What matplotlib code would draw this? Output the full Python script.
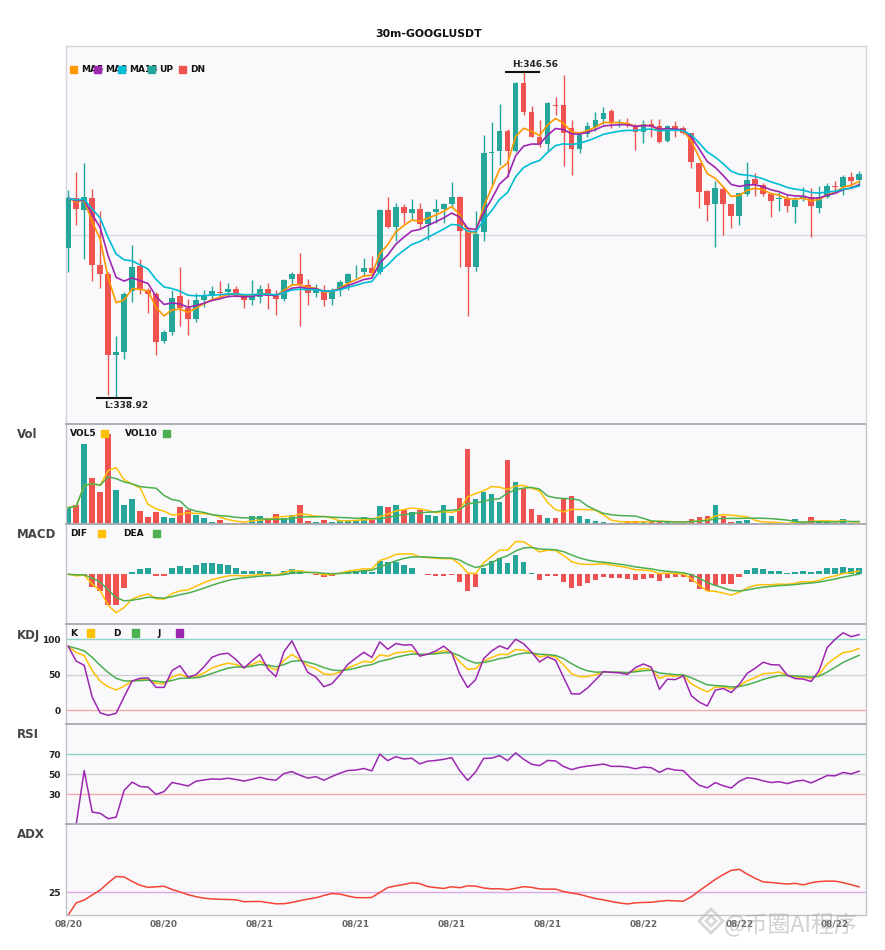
import numpy as np
import pandas as pd
import matplotlib
matplotlib.use("Agg")
import matplotlib.pyplot as plt
from matplotlib.patches import Rectangle, RegularPolygon
from matplotlib.transforms import IdentityTransform

# 1. Dados das velas (30m GOOGLUSDT)
opens = [342.44, 343.60, 343.32, 343.61, 342.04, 341.83, 339.94, 340.00, 341.44, 342.02,
         341.45, 341.36, 340.26, 340.48, 341.31, 341.04, 340.78, 341.22, 341.32, 341.41,
         341.40, 341.48, 341.36, 341.21, 341.29, 341.48, 341.32, 341.24, 341.71, 341.83,
         341.57, 341.38, 341.44, 341.25, 341.45, 341.62, 341.84, 341.87, 341.96, 341.88,
         343.32, 342.93, 343.40, 343.26, 343.35, 343.00, 343.28, 343.35, 343.47, 343.63,
         342.86, 341.98, 342.82, 344.67, 344.71, 345.17, 344.71, 346.29, 345.62, 345.04,
         344.86, 345.79, 345.78, 345.24, 344.75, 345.10, 345.27, 345.45, 345.64, 345.36,
         345.37, 345.30, 345.16, 345.35, 345.29, 344.94, 345.30, 345.24, 345.12, 344.42,
         343.77, 343.46, 343.82, 343.47, 343.19, 343.70, 344.05, 343.90, 343.70, 343.59,
         343.59, 343.40, 343.58, 343.64, 343.38, 343.62, 343.89, 343.86, 344.09, 344.03]
highs = [343.79, 344.21, 344.42, 343.81, 343.30, 341.87, 340.38, 341.41, 342.51, 342.18,
         341.50, 341.41, 340.52, 341.45, 341.98, 341.24, 341.38, 341.45, 341.55, 341.66,
         341.61, 341.55, 341.36, 341.69, 341.57, 341.61, 341.45, 341.71, 341.88, 342.33,
         341.71, 341.59, 341.57, 341.49, 341.69, 341.84, 342.04, 342.20, 342.25, 343.35,
         343.64, 343.48, 343.47, 343.58, 343.48, 343.30, 343.58, 343.49, 343.99, 343.65,
         342.90, 343.31, 345.08, 345.39, 345.80, 345.22, 346.32, 346.56, 345.77, 345.43,
         345.85, 345.96, 346.48, 345.43, 345.16, 345.39, 345.62, 345.74, 345.69, 345.45,
         345.49, 345.35, 345.43, 345.45, 345.45, 345.31, 345.41, 345.29, 345.12, 344.42,
         343.79, 344.00, 343.86, 343.47, 343.72, 344.46, 344.20, 343.95, 343.70, 343.75,
         343.68, 343.64, 343.86, 343.83, 343.89, 343.96, 344.00, 344.14, 344.21, 344.24]
lows = [341.88, 342.97, 342.18, 341.67, 341.51, 339.00, 338.92, 339.84, 341.18, 341.36,
        340.92, 339.92, 340.21, 340.40, 340.62, 340.40, 340.71, 341.06, 341.22, 341.27,
        341.30, 341.29, 341.03, 341.10, 341.15, 341.00, 340.87, 341.20, 341.57, 340.60,
        341.10, 341.30, 341.08, 341.10, 341.31, 341.45, 341.73, 341.77, 341.77, 341.83,
        342.90, 342.61, 343.01, 343.11, 342.90, 342.62, 343.01, 343.01, 343.37, 341.98,
        340.85, 341.90, 342.61, 343.91, 344.38, 344.10, 344.68, 345.55, 345.03, 344.79,
        344.68, 345.55, 344.35, 344.14, 344.65, 345.04, 345.18, 345.35, 345.24, 345.27,
        345.27, 344.73, 344.89, 345.03, 344.90, 344.92, 345.03, 345.10, 344.31, 343.37,
        343.07, 342.47, 342.74, 342.90, 342.97, 343.66, 343.66, 343.66, 343.15, 343.31,
        343.29, 343.03, 343.54, 342.70, 343.26, 343.60, 343.73, 343.68, 343.81, 343.91]
closes = [343.60, 343.35, 343.62, 342.04, 341.83, 339.93, 339.99, 341.36, 341.99, 341.45,
          341.36, 340.24, 340.47, 341.27, 341.04, 340.78, 341.22, 341.34, 341.43, 341.39,
          341.48, 341.36, 341.22, 341.34, 341.48, 341.32, 341.25, 341.69, 341.83, 341.59,
          341.38, 341.47, 341.22, 341.44, 341.65, 341.83, 341.86, 341.96, 341.84, 343.32,
          342.93, 343.40, 343.26, 343.35, 343.00, 343.28, 343.35, 343.47, 343.64, 342.84,
          341.98, 342.76, 344.65, 344.69, 345.17, 344.71, 346.29, 345.62, 345.04, 344.86,
          345.82, 345.77, 345.13, 344.75, 345.08, 345.29, 345.43, 345.59, 345.37, 345.37,
          345.31, 345.16, 345.35, 345.29, 344.92, 345.30, 345.17, 345.13, 344.46, 343.75,
          343.44, 343.84, 343.47, 343.19, 343.72, 344.03, 343.93, 343.71, 343.54, 343.60,
          343.42, 343.57, 343.64, 343.42, 343.64, 343.89, 343.87, 344.09, 344.00, 344.17]
volumes = [16.7, 19.3, 80.3, 46.7, 32.7, 90.3, 34.3, 19.3, 25.3, 13.3,
           7.3, 12.3, 7.3, 6.3, 17.3, 14.3, 9.3, 6.3, 2.3, 4.3,
           1.3, 1.3, 1.7, 8.3, 8.3, 6.3, 10.3, 6.3, 9.3, 19.3,
           3.3, 2.3, 4.3, 2.3, 4.3, 4.3, 4.3, 7.3, 4.3, 18.3,
           17.3, 19.3, 14.3, 12.3, 14.3, 9.3, 8.3, 19.3, 8.3, 26.3,
           75.3, 25.3, 32.3, 30.3, 22.3, 64.3, 42.3, 36.3, 15.3, 9.3,
           6.3, 6.3, 25.3, 28.3, 8.3, 5.3, 3.3, 2.3, 1.3, 1.3,
           3.3, 3.3, 3.3, 2.3, 3.3, 2.3, 1.3, 1.3, 5.3, 7.3,
           8.3, 19.3, 8.3, 2.3, 3.3, 4.3, 1.3, 0.7, 1.3, 0.7,
           0.7, 5.3, 1.3, 7.3, 2.3, 2.3, 1.3, 5.3, 1.3, 0.7]
inicio = "2025-08-20 14:00"

UP = "#26a69a"
DN = "#ef5350"

df = pd.DataFrame({"open": opens, "high": highs, "low": lows,
                   "close": closes, "vol": volumes})
df.index = pd.date_range(inicio, periods=len(df), freq="30min")
n = len(df)
x = np.arange(n)
close = df["close"]

# 2. Indicadores
ema5 = close.ewm(span=5, adjust=False).mean()
ema8 = close.ewm(span=8, adjust=False).mean()
ema13 = close.ewm(span=13, adjust=False).mean()

vol5 = df["vol"].rolling(5, min_periods=1).mean()
vol10 = df["vol"].rolling(10, min_periods=1).mean()

dif = close.ewm(span=6, adjust=False).mean() - close.ewm(span=13, adjust=False).mean()
dea = dif.ewm(span=5, adjust=False).mean()
hist = 2 * (dif - dea)

low_n = df["low"].rolling(9, min_periods=1).min()
high_n = df["high"].rolling(9, min_periods=1).max()
rsv = (close - low_n) / (high_n - low_n) * 100
k = rsv.ewm(com=2, adjust=False).mean()
d = k.ewm(com=2, adjust=False).mean()
j = 3 * k - 2 * d

delta = close.diff().fillna(0)
ganho = delta.clip(lower=0).ewm(alpha=1 / 14, adjust=False).mean()
perda = (-delta.clip(upper=0)).ewm(alpha=1 / 14, adjust=False).mean()
rsi = 100 * ganho / (ganho + perda)

prev = close.shift()
tr = pd.concat([df["high"] - df["low"], (df["high"] - prev).abs(),
                (df["low"] - prev).abs()], axis=1).max(axis=1)
up_move = df["high"].diff()
dn_move = -df["low"].diff()
pdm = np.where((up_move > dn_move) & (up_move > 0), up_move, 0.0)
mdm = np.where((dn_move > up_move) & (dn_move > 0), dn_move, 0.0)
atr = tr.ewm(span=14, adjust=False).mean()
pdi = 100 * pd.Series(pdm, index=df.index).ewm(span=14, adjust=False).mean() / atr
mdi = 100 * pd.Series(mdm, index=df.index).ewm(span=14, adjust=False).mean() / atr
dx = (100 * (pdi - mdi).abs() / (pdi + mdi)).fillna(0)
adx = dx.ewm(span=14, adjust=False).mean()

# 3. Figura
W, H = 885, 950
fig = plt.figure(figsize=(W / 100, H / 100), dpi=100)
fundo = "#f9f9fb"


def caixa(top, bottom):
    return [65.5 / W, 1 - bottom / H, 800 / W, (bottom - top) / H]


ax = fig.add_axes(caixa(45.7, 424.3))
axv = fig.add_axes(caixa(424.3, 524.3), sharex=ax)
axm = fig.add_axes(caixa(524.3, 624.3), sharex=ax)
axk = fig.add_axes(caixa(624.3, 724.3), sharex=ax)
axr = fig.add_axes(caixa(724.3, 824.3), sharex=ax)
axa = fig.add_axes(caixa(824.3, 915), sharex=ax)
todos = [ax, axv, axm, axk, axr, axa]

for a in todos:
    a.set_facecolor(fundo)
    a.tick_params(length=0, labelsize=6.5, labelcolor="#222")
    for s in a.spines.values():
        s.set_color("#c4c4cc")
        s.set_linewidth(1)
    a.set_yticks([])
for a in todos[1:]:
    a.spines["top"].set_color("#a8a8b0")
    a.spines["top"].set_linewidth(1.3)
    a.spines["bottom"].set_visible(False)
ax.spines["bottom"].set_visible(False)
for s in ax.spines.values():
    s.set_color("#d4d4dc")
axa.spines["bottom"].set_visible(True)

cores = np.where(df["close"] >= df["open"], UP, DN)

# velas
corpo_base = np.minimum(df["open"], df["close"])
corpo_alt = np.maximum((df["close"] - df["open"]).abs(), 0.015)
ax.vlines(x, df["low"], df["high"], colors=cores, linewidth=1, zorder=2)
ax.bar(x, corpo_alt, bottom=corpo_base, width=0.72, color=cores, zorder=3)
ax.plot(x, ema5, color="#ff9800", lw=1.2, zorder=4)
ax.plot(x, ema8, color="#9c27b0", lw=1.2, zorder=4)
ax.plot(x, ema13, color="#00bcd4", lw=1.2, zorder=4)

lo, hi = df["low"].min(), df["high"].max()
rng = hi - lo
ax.set_ylim(lo - 0.08 * rng, hi + 0.08 * rng)
ax.axhline((hi + lo) / 2, color="#dadae2", lw=1, zorder=1)
ax.set_xlim(-0.34, n - 0.2)

ih, il = int(df["high"].values.argmax()), int(df["low"].values.argmin())
ax.hlines(hi, ih - 2.3, ih + 2.1, color="#111", lw=1.5, zorder=5)
ax.annotate(f"H:{hi:.2f}", (ih + 1.4, hi), xytext=(0, 3), textcoords="offset pixels",
            ha="center", va="bottom", fontsize=6.5, fontweight="bold", color="#222")
ax.hlines(lo, il - 2.5, il + 2.0, color="#111", lw=1.5, zorder=5)
ax.annotate(f"L:{lo:.2f}", (il + 1.3, lo), xytext=(0, -3), textcoords="offset pixels",
            ha="center", va="top", fontsize=6.5, fontweight="bold", color="#222")

# volume
axv.bar(x, df["vol"], width=0.7, color=cores)
axv.plot(x, vol5, color="#ffc107", lw=1.1)
axv.plot(x, vol10, color="#4caf50", lw=1.1)
axv.set_ylim(0, df["vol"].max() * 1.11)

# MACD
axm.bar(x, hist, width=0.7, color=np.where(hist >= 0, UP, DN))
axm.plot(x, dif, color="#ffc107", lw=1.1)
axm.plot(x, dea, color="#4caf50", lw=1.1)
lim = max(dif.abs().max(), dea.abs().max(), hist.abs().max()) * 1.3
axm.set_ylim(-lim, lim)

# KDJ
for nivel, c in [(100, "#8fd3cc"), (50, "#cfcfd4"), (0, "#f4a9a9")]:
    axk.axhline(nivel, color=c, lw=1)
axk.plot(x, k, color="#ffc107", lw=1.1)
axk.plot(x, d, color="#4caf50", lw=1.1)
axk.plot(x, j, color="#9c27b0", lw=1.1)
axk.set_ylim(-20, 121)
axk.set_yticks([0, 50, 100])

# RSI
for nivel, c in [(70, "#8fd3cc"), (50, "#cfcfd4"), (30, "#f4a9a9")]:
    axr.axhline(nivel, color=c, lw=1)
axr.plot(x, rsi, color="#9c27b0", lw=1.1)
axr.set_ylim(0, 100)
axr.set_yticks([30, 50, 70])

# ADX
axa.axhline(25, color="#dba6e6", lw=1)
axa.plot(x, adx, color="#f44336", lw=1.1)
axa.set_ylim(0, 100)
axa.set_yticks([25])

for a in [axk, axr, axa]:
    for t in a.get_yticklabels():
        t.set_fontweight("bold")

ticks = x[::12]
axa.set_xticks(ticks)
axa.set_xticklabels(df.index[ticks].strftime("%m/%d"), fontsize=6.5,
                    fontweight="bold", color="#666")
axa.tick_params(axis="x", pad=3)
for a in todos[:-1]:
    a.tick_params(axis="x", labelbottom=False)


# 4. Textos e legendas (em pixels da figura)
def texto(px, py, s, **kw):
    fig.text(px / W, 1 - py / H, s, va="center", **kw)


def quadrado(px, py, cor, lado=7.3):
    fig.add_artist(Rectangle((px / W, 1 - (py + lado) / H), lado / W, lado / H,
                             transform=fig.transFigure, color=cor, zorder=5))


fig.text(429 / W, 1 - 34 / H, "30m-GOOGLUSDT", ha="center", va="center",
         fontsize=7.8, fontweight="bold", color="#111")

for nome, py in [("Vol", 435), ("MACD", 535), ("KDJ", 635), ("RSI", 735), ("ADX", 835)]:
    texto(17, py, nome, fontsize=8.5, fontweight="bold", color="#444")

leg = dict(fontsize=6.5, fontweight="bold", color="#111")
for px, cor, nome in [(70, "#ff9800", "MA5"), (94, "#9c27b0", "MA8"),
                      (118, "#00bcd4", "MA13"), (148, UP, "UP"), (179, DN, "DN")]:
    texto(px + 11, 69.3, nome, zorder=2, **leg)
    quadrado(px, 65.7, cor)

texto(70, 434, "VOL5", **leg)
quadrado(101, 430, "#ffc107")
texto(125, 434, "VOL10", **leg)
quadrado(163, 430, "#4caf50")

texto(70, 534, "DIF", **leg)
quadrado(97.7, 530, "#ffc107")
texto(123, 534, "DEA", **leg)
quadrado(153, 530, "#4caf50")

texto(70, 633.5, "K", **leg)
quadrado(87, 629.3, "#ffc107")
texto(113, 633.5, "D", **leg)
quadrado(131.7, 629.3, "#4caf50")
texto(157, 633.5, "J", **leg)
quadrado(175.7, 629.3, "#9c27b0")

# marca d'agua (logo + texto), semitransparente por cima das datas
for raio in (12, 5):
    fig.add_artist(RegularPolygon((711, H - 921), 4, radius=raio,
                                  transform=IdentityTransform(), facecolor="none",
                                  edgecolor="#b0b0b0", lw=2, alpha=0.5, zorder=10))
fig.text(724 / W, 1 - 925 / H, "@币圈AI程序", va="center", fontsize=16.5,
         family=["Noto Sans CJK SC", "DejaVu Sans"], color="#9a9a9a",
         alpha=0.45, zorder=10)

plt.savefig("out.png", dpi=100, facecolor="white")
